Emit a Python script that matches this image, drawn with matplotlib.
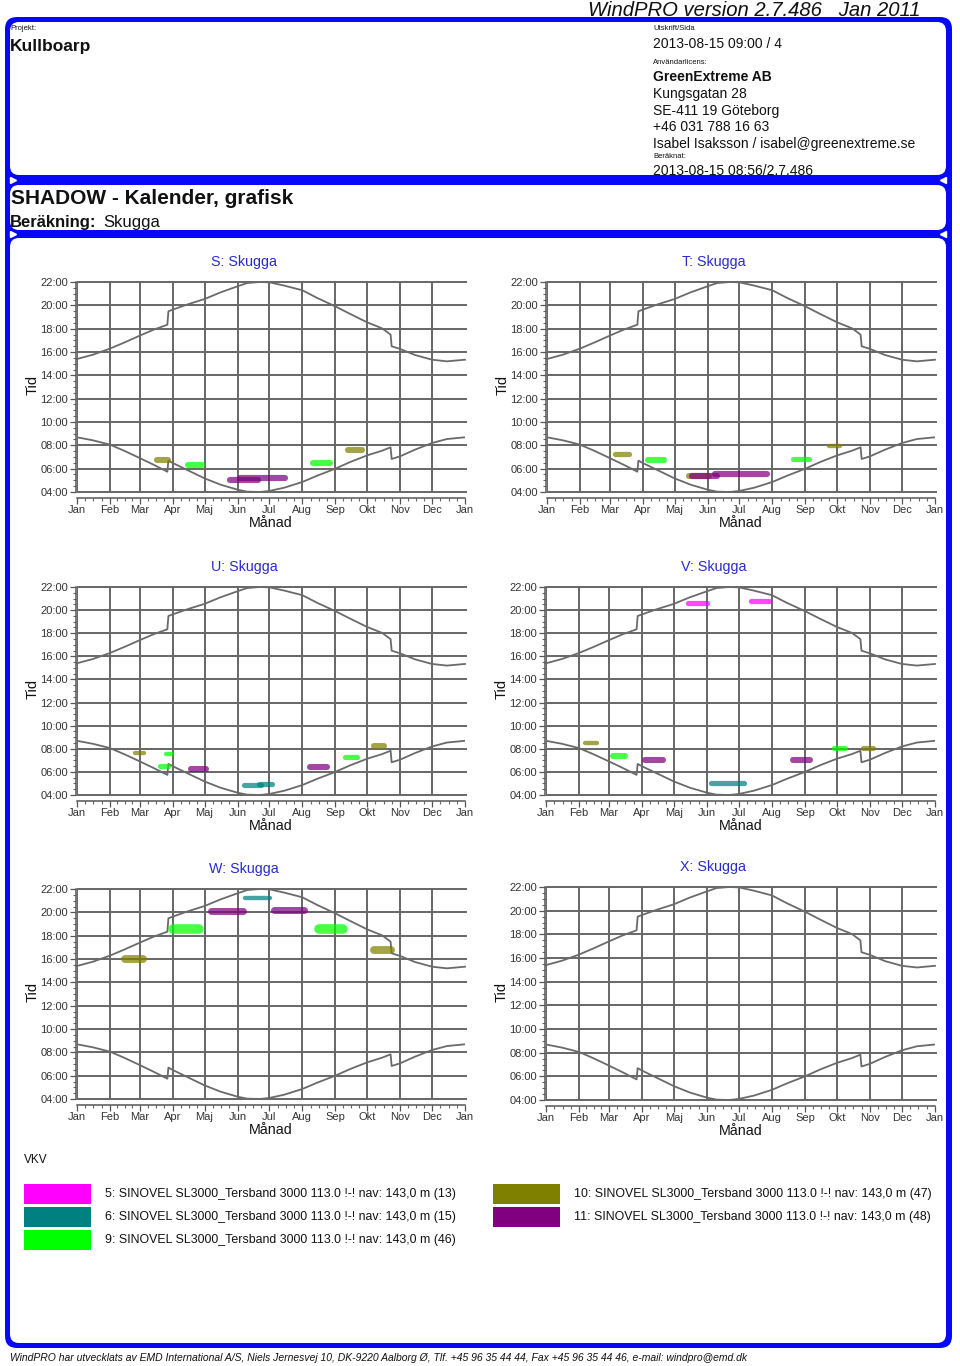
import matplotlib
matplotlib.use("Agg")
import matplotlib.pyplot as plt
from matplotlib.patches import FancyBboxPatch, Rectangle
from matplotlib.ticker import AutoMinorLocator, FixedLocator

plt.rcParams['font.family'] = ['Liberation Sans', 'DejaVu Sans']

# ---------------- data ----------------
month_labels = ["Jan", "Feb", "Mar", "Apr", "Maj", "Jun", "Jul", "Aug", "Sep", "Okt", "Nov", "Dec", "Jan"]
month_days = [0, 31, 59, 90, 120, 151, 181, 212, 243, 273, 304, 334, 365]
hour_ticks = [4, 6, 8, 10, 12, 14, 16, 18, 20, 22]
hour_labels = ["04:00", "06:00", "08:00", "10:00", "12:00", "14:00", "16:00", "18:00", "20:00", "22:00"]

sun_days = [0, 15, 31, 45, 59, 72, 85, 86, 90, 105, 120, 135, 151, 160, 172,
            181, 195, 212, 226, 243, 257, 273, 287, 295, 296, 304, 318, 334, 348, 365]
sunrise_h = [8.69, 8.43, 8.06, 7.51, 6.91, 6.34, 5.74, 6.69, 6.49, 5.83, 5.17, 4.63, 4.20, 4.03, 4.00,
             4.09, 4.37, 4.86, 5.40, 6.00, 6.57, 7.14, 7.54, 7.83, 6.83, 7.06, 7.63, 8.20, 8.54, 8.69]
sunset_h = [15.40, 15.77, 16.29, 16.83, 17.40, 17.91, 18.34, 19.49, 19.63, 20.11, 20.54, 21.11, 21.63, 21.91, 22.00,
            21.97, 21.69, 21.29, 20.63, 19.91, 19.26, 18.54, 18.03, 17.49, 16.49, 16.26, 15.74, 15.34, 15.20, 15.34]

turbine_ids = [5, 6, 9, 10, 11]
turbine_colors = ["#ff00ff", "#008080", "#00ff00", "#808000", "#800080"]
turbine_labels = [
    "5: SINOVEL SL3000_Tersband 3000 113.0 !-! nav: 143,0 m (13)",
    "6: SINOVEL SL3000_Tersband 3000 113.0 !-! nav: 143,0 m (15)",
    "9: SINOVEL SL3000_Tersband 3000 113.0 !-! nav: 143,0 m (46)",
    "10: SINOVEL SL3000_Tersband 3000 113.0 !-! nav: 143,0 m (47)",
    "11: SINOVEL SL3000_Tersband 3000 113.0 !-! nav: 143,0 m (48)",
]

panel_names = ["S", "T", "U", "V", "W", "X"]

# shadow occurrences per receptor: turbine, first day, last day, clock hour, spread (h)
S_turbine = [10, 9, 11, 11, 9, 10]
S_day0 = [75, 104, 144, 153, 222, 255]
S_day1 = [86, 118, 170, 196, 238, 268]
S_hour = [6.77, 6.34, 5.05, 5.18, 6.46, 7.57]
S_span = [0.35, 0.35, 0.35, 0.35, 0.35, 0.35]

T_turbine = [10, 9, 10, 11, 11, 9, 10]
T_day0 = [64, 95, 134, 136, 158, 231, 265]
T_day1 = [77, 110, 152, 160, 207, 246, 276]
T_hour = [7.26, 6.77, 5.37, 5.40, 5.58, 6.83, 7.91]
T_span = [0.30, 0.35, 0.35, 0.35, 0.35, 0.30, 0.25]

U_turbine = [10, 9, 9, 11, 6, 6, 11, 9, 10]
U_day0 = [55, 84, 78, 107, 157, 171, 219, 252, 279]
U_day1 = [63, 89, 86, 121, 173, 183, 235, 263, 289]
U_hour = [7.66, 7.51, 6.53, 6.27, 4.84, 4.93, 6.38, 7.30, 8.23]
U_span = [0.25, 0.25, 0.30, 0.35, 0.30, 0.30, 0.35, 0.30, 0.35]

V_turbine = [5, 5, 10, 9, 11, 6, 11, 9, 10]
V_day0 = [133, 192, 37, 63, 93, 155, 232, 270, 297]
V_day1 = [151, 209, 48, 74, 110, 186, 248, 281, 307]
V_hour = [20.62, 20.76, 8.52, 7.37, 7.01, 5.07, 7.01, 8.03, 8.03]
V_span = [0.30, 0.30, 0.25, 0.35, 0.35, 0.30, 0.35, 0.30, 0.30]

W_turbine = [10, 9, 11, 6, 11, 9, 10]
W_day0 = [45, 90, 126, 158, 185, 228, 279]
W_day1 = [62, 115, 156, 182, 214, 250, 295]
W_hour = [15.96, 18.54, 20.14, 21.20, 20.23, 18.54, 16.73]
W_span = [0.45, 0.55, 0.40, 0.25, 0.40, 0.55, 0.45]

X_turbine = []
X_day0 = []
X_day1 = []
X_hour = []
X_span = []

shadows = {
    "S": (S_turbine, S_day0, S_day1, S_hour, S_span),
    "T": (T_turbine, T_day0, T_day1, T_hour, T_span),
    "U": (U_turbine, U_day0, U_day1, U_hour, U_span),
    "V": (V_turbine, V_day0, V_day1, V_hour, V_span),
    "W": (W_turbine, W_day0, W_day1, W_hour, W_span),
    "X": (X_turbine, X_day0, X_day1, X_hour, X_span),
}

# ---------------- figure ----------------
W, H = 960, 1366
fig = plt.figure(figsize=(9.6, 13.66), dpi=100)

bg = fig.add_axes([0, 0, 1, 1])
bg.set_xlim(0, W)
bg.set_ylim(H, 0)
bg.axis('off')
bg.set_zorder(0)

BLUE = "#0808f8"
bg.add_patch(FancyBboxPatch((5, 17), 947, 1331, boxstyle="round,pad=0,rounding_size=12",
                            fc=BLUE, ec='none', zorder=1))
for (x0, y0, x1, y1) in [(10, 22, 946, 175), (10, 185, 946, 230), (10, 238, 946, 1343)]:
    bg.add_patch(FancyBboxPatch((x0, y0), x1 - x0, y1 - y0, boxstyle="round,pad=0,rounding_size=9",
                                fc='white', ec='none', zorder=2))

TXT = "#111111"
bg.text(588, 10, "WindPRO version 2.7.486   Jan 2011", fontsize=14.6, style='italic',
        va='center', ha='left', color=TXT, zorder=5)
bg.text(10, 29, "Projekt:", fontsize=5.5, va='center', color=TXT, zorder=3)
bg.text(10, 47, "Kullboarp", fontsize=12.5, fontweight='bold', va='center', color=TXT, zorder=3)

rx = 653
bg.text(rx, 29, "Utskrift/Sida", fontsize=5.5, va='center', color=TXT, zorder=3)
bg.text(rx, 44, "2013-08-15 09:00 / 4", fontsize=10, va='center', color=TXT, zorder=3)
bg.text(rx, 62, "Användarlicens:", fontsize=5.5, va='center', color=TXT, zorder=3)
bg.text(rx, 77, "GreenExtreme AB", fontsize=10, fontweight='bold', va='center', color=TXT, zorder=3)
bg.text(rx, 94, "Kungsgatan 28", fontsize=10, va='center', color=TXT, zorder=3)
bg.text(rx, 111, "SE-411 19 Göteborg", fontsize=10, va='center', color=TXT, zorder=3)
bg.text(rx, 127, "+46 031 788 16 63", fontsize=10, va='center', color=TXT, zorder=3)
bg.text(rx, 144, "Isabel Isaksson / isabel@greenextreme.se", fontsize=10, va='center', color=TXT, zorder=3)
bg.text(rx, 156, "Beräknat:", fontsize=5.5, va='center', color=TXT, zorder=3)
bg.text(rx, 171, "2013-08-15 08:56/2.7.486", fontsize=10, va='center', color=TXT, zorder=3)
bg.add_patch(Rectangle((10, 175), 936, 10, fc=BLUE, ec='none', zorder=4))

bg.text(11, 198, "SHADOW - Kalender, grafisk", fontsize=15, fontweight='bold', va='center', color=TXT, zorder=3)
bg.text(10, 223, "Beräkning:", fontsize=12, fontweight='bold', va='center', color=TXT, zorder=3)
bg.text(103, 223, "Skugga", fontsize=12, va='center', color=TXT, zorder=3)

# small white arrow markers in the bands
bg.plot([13, 13], [180, 234], marker='>', ls='none', ms=4, color='white', zorder=5)
bg.plot([943, 943], [180, 234], marker='<', ls='none', ms=4, color='white', zorder=5)

# ---------------- charts ----------------
ax_boxes = {
    "S": (77, 282, 465, 492),
    "T": (547, 282, 935, 492),
    "U": (77, 587, 465, 795),
    "V": (546, 587, 935, 795),
    "W": (77, 889, 465, 1099),
    "X": (546, 887, 935, 1100),
}

minor_days = []
for a, b in zip(month_days[:-1], month_days[1:]):
    for k in (1, 2, 3):
        minor_days.append(a + (b - a) * k / 4)

GRID = "#666666"
CURVE = "#6a6a6a"
color_of = dict(zip(turbine_ids, turbine_colors))

for name in panel_names:
    x0, y0, x1, y1 = ax_boxes[name]
    ax = fig.add_axes([x0 / W, 1 - y1 / H, (x1 - x0) / W, (y1 - y0) / H])
    ax.set_zorder(3)
    ax.patch.set_alpha(0)
    ax.set_xlim(0, 365)
    ax.set_ylim(4, 22)
    ax.vlines(month_days[:-1], 4, 22, colors=GRID, lw=1.4, zorder=1)
    ax.hlines(hour_ticks, 0, 367, colors=GRID, lw=1.4, zorder=1, clip_on=False)
    ax.plot(sun_days, sunrise_h, color=CURVE, lw=1.3, zorder=2)
    ax.plot(sun_days, sunset_h, color=CURVE, lw=1.3, zorder=2, clip_on=False)

    turb, d0s, d1s, hrs, spans = shadows[name]
    pt_per_hour = (y1 - y0) / 18 * 0.72
    for tb, d0, d1, hr, sp in zip(turb, d0s, d1s, hrs, spans):
        lw = sp * pt_per_hour * 1.5
        ax.plot([d0, d1], [hr, hr], color=color_of[tb], lw=lw, alpha=0.72,
                solid_capstyle='round', zorder=3)

    ax.xaxis.set_major_locator(FixedLocator(month_days))
    ax.set_xticklabels(month_labels)
    ax.xaxis.set_minor_locator(FixedLocator(minor_days))
    ax.yaxis.set_major_locator(FixedLocator(hour_ticks))
    ax.set_yticklabels(hour_labels)
    ax.yaxis.set_minor_locator(AutoMinorLocator(4))

    for side in ("top", "right"):
        ax.spines[side].set_visible(False)
    ax.spines["left"].set_position(("outward", 1))
    ax.spines["bottom"].set_position(("outward", 4))
    for side in ("left", "bottom"):
        ax.spines[side].set_color("#555555")
        ax.spines[side].set_linewidth(1.1)

    ax.tick_params(which='major', length=4, width=0.9, color="#555555", labelsize=8,
                   labelcolor="#333333", pad=1.5)
    ax.tick_params(which='minor', length=2.5, width=0.8, color="#666666")

    cx = (x0 + x1) / 2
    bg.text(cx - 27, y0 - 20, f"{name}: Skugga", fontsize=10.3, color="#2a2acc",
            ha='center', va='center', zorder=5)
    bg.text(x0 - 44, (y0 + y1) / 2 - 2, "Tid", fontsize=10.5, rotation=90, color=TXT,
            ha='center', va='center', zorder=5)
    bg.text(cx, y1 + 31, "Månad", fontsize=10.3, color=TXT, ha='center', va='center', zorder=5)

# ---------------- legend ----------------
bg.text(24, 1160, "VKV", fontsize=8.5, va='center', color=TXT, zorder=3)
leg_x = [24, 24, 24, 493, 493]
leg_y = [1184, 1207, 1230, 1184, 1207]
for (tid, col, lab, lx, ly) in zip(turbine_ids, turbine_colors, turbine_labels, leg_x, leg_y):
    bg.add_patch(Rectangle((lx, ly), 67, 20, fc=col, ec='none', zorder=3))
    bg.text(lx + 81, ly + 10, lab, fontsize=8.9, va='center', color=TXT, zorder=3)

# ---------------- footer ----------------
bg.text(10, 1358, "WindPRO har utvecklats av EMD International A/S, Niels Jernesvej 10, DK-9220 Aalborg Ø, "
        "Tlf. +45 96 35 44 44, Fax +45 96 35 44 46, e-mail: windpro@emd.dk",
        fontsize=7.5, style='italic', va='center', color=TXT, zorder=3)

fig.savefig("out.png", dpi=100)
